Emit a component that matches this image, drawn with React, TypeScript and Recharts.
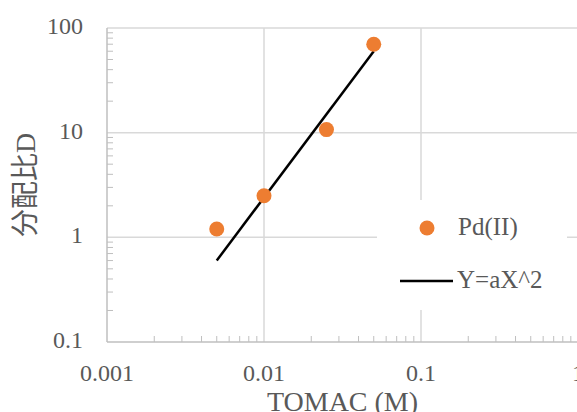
import React from 'react';
import { ScatterChart, Scatter, XAxis, YAxis, ReferenceLine, Legend } from 'recharts';

// Pd(II) distribution ratio vs TOMAC concentration
const pointX = [0.005, 0.01, 0.025, 0.05];
const pointY = [1.2, 2.5, 10.7, 70];

// fitted line Y = aX^2 (end points)
const fitX = [0.005, 0.05];
const fitY = [0.6, 60];

const xMajor = [0.001, 0.01, 0.1, 1];
const yMajor = [0.1, 1, 10, 100];
const minorSteps = [2, 3, 4, 5, 6, 7, 8, 9];

const withMinor = (major: number[]) => {
  const out: number[] = [...major];
  major.slice(0, -1).forEach((d) => {
    minorSteps.forEach((k) => out.push(Number((d * k).toPrecision(3))));
  });
  return out.sort((a, b) => a - b);
};

const xTicks = withMinor(xMajor);
const yTicks = withMinor(yMajor);

const pointData = pointX.map((x, i) => ({ x, y: pointY[i] }));
const fitData = fitX.map((x, i) => ({ x, y: fitY[i] }));

const SERIF = '"Liberation Serif", "Noto Sans CJK JP", serif';
const TEXT = '#595959';
const AXIS = '#bfbfbf';
const GRID = '#d9d9d9';
const ORANGE = '#ED7D31';

const renderXTick = (props: any) => {
  const { x, y, payload } = props;
  if (xMajor.includes(payload.value)) {
    return (
      <text x={x} y={y} dy={39} textAnchor="middle" fill={TEXT} fontSize={24} fontFamily={SERIF}>
        {payload.value}
      </text>
    );
  }
  return <line x1={x} x2={x} y1={y} y2={y - 6} stroke={AXIS} strokeWidth={1} />;
};

const renderYTick = (props: any) => {
  const { x, y, payload } = props;
  if (yMajor.includes(payload.value)) {
    return (
      <text x={x - 24} y={y} dy={6} textAnchor="end" fill={TEXT} fontSize={24} fontFamily={SERIF}>
        {payload.value}
      </text>
    );
  }
  return <line x1={x} x2={x + 6} y1={y} y2={y} stroke={AXIS} strokeWidth={1} />;
};

const renderLegend = () => (
  <svg width={190} height={110}>
    <circle cx={50} cy={28} r={7.5} fill={ORANGE} />
    <text x={81} y={35} fill={TEXT} fontSize={25} fontFamily={SERIF}>Pd(II)</text>
    <line x1={23} x2={76} y1={81} y2={81} stroke="#000" strokeWidth={2.5} />
    <text x={80} y={88} fill={TEXT} fontSize={25} fontFamily={SERIF}>Y=aX^2</text>
  </svg>
);

const Dot = (props: any) => <circle cx={props.cx} cy={props.cy} r={7.5} fill={ORANGE} />;
const NoDot = () => <g />;

export default function App() {
  return (
    <div style={{ position: 'absolute', left: 0, top: 0, width: 577, height: 412, overflow: 'hidden', background: '#fff' }}>
      <ScatterChart width={600} height={412} margin={{ top: 28, right: 22, bottom: 30, left: 47 }}>
        <XAxis
          type="number"
          dataKey="x"
          scale="log"
          domain={[0.001, 1]}
          allowDataOverflow
          ticks={xTicks}
          interval={0}
          tickLine={false}
          tickSize={0}
          tickMargin={0}
          tick={renderXTick}
          height={40}
          axisLine={{ stroke: AXIS, strokeWidth: 1.5 }}
          label={{ value: 'TOMAC (M)', position: 'bottom', offset: 9, fill: TEXT, fontSize: 28, fontFamily: SERIF }}
        />
        <YAxis
          type="number"
          dataKey="y"
          scale="log"
          domain={[0.1, 100]}
          allowDataOverflow
          ticks={yTicks}
          interval={0}
          tickLine={false}
          tickSize={0}
          tickMargin={0}
          tick={renderYTick}
          width={60}
          axisLine={{ stroke: AXIS, strokeWidth: 1.5 }}
          label={{
            value: '分配比D',
            angle: -90,
            position: 'insideLeft',
            offset: -22,
            fill: TEXT,
            fontSize: 28,
            fontFamily: SERIF,
            style: { textAnchor: 'middle' },
          }}
        />
        {yMajor.slice(1).map((v) => (
          <ReferenceLine key={`h-${v}`} y={v} stroke={GRID} strokeWidth={1.5} />
        ))}
        {xMajor.slice(1).map((v) => (
          <ReferenceLine key={`v-${v}`} x={v} stroke={GRID} strokeWidth={1.5} />
        ))}
        <Legend
          layout="vertical"
          align="center"
          verticalAlign="middle"
          wrapperStyle={{ left: 377, top: 200, width: 190, height: 110, background: '#fff' }}
          content={renderLegend}
        />
        <Scatter
          name="Y=aX^2"
          data={fitData}
          line={{ stroke: '#000', strokeWidth: 2.5 }}
          shape={NoDot}
          isAnimationActive={false}
        />
        <Scatter name="Pd(II)" data={pointData} fill={ORANGE} shape={Dot} isAnimationActive={false} />
      </ScatterChart>
    </div>
  );
}
